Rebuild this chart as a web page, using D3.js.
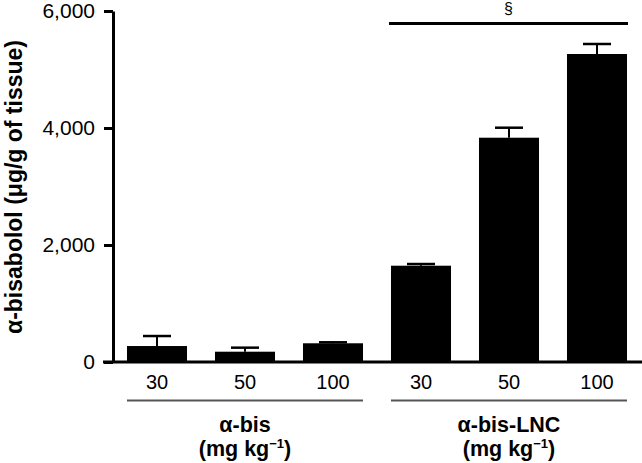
<!DOCTYPE html>
<html><head><meta charset="utf-8">
<script src="https://cdn.jsdelivr.net/npm/d3@7"></script>
<style>body{margin:0;background:#fff}svg{display:block}text{font-family:"Liberation Sans",Arial,sans-serif}</style>
</head><body>
<svg id="c" width="642" height="463"></svg>
<script>
const categories = ["bis-30","bis-50","bis-100","lnc-30","lnc-50","lnc-100"];
const doseLabels = ["30","50","100","30","50","100"];
const groupOf = ["α-bis","α-bis","α-bis","α-bis-LNC","α-bis-LNC","α-bis-LNC"];
const groupNames = ["α-bis","α-bis-LNC"];
const means = [273,176,320,1646,3834,5265];
const errors = [171,69,17,29,171,171];
const yTicks = [0,2000,4000,6000];
const sigGroup = "α-bis-LNC";
const sigSymbol = "§";

const svg = d3.select("#c");
const x = d3.scaleBand().domain(categories).range([113,641]).paddingInner(0.318).paddingOuter(0.159);
const y = d3.scaleLinear().domain([0,6000]).range([362,11]);

// y axis
const ya = svg.append("g").attr("transform","translate(113,0)")
  .call(d3.axisLeft(y).tickValues(yTicks).tickFormat(d3.format(",")).tickSize(9).tickSizeOuter(0));
ya.select(".domain").attr("stroke","#000").attr("stroke-width",3);
ya.selectAll(".tick line").attr("stroke","#000").attr("stroke-width",3);
ya.selectAll(".tick text").attr("font-size",21).attr("fill","#000").attr("x",-18)
  .attr("font-family","Liberation Sans, Arial, sans-serif");

// bars
svg.selectAll("rect.bar").data(categories).enter().append("rect")
  .attr("x",d=>x(d)).attr("width",x.bandwidth())
  .attr("y",(d,i)=>y(means[i])).attr("height",(d,i)=>y(0)-y(means[i]))
  .attr("fill","#000");

// error bars
const cap = 28;
categories.forEach((d,i)=>{
  const cx = x(d)+x.bandwidth()/2;
  svg.append("line").attr("x1",cx).attr("x2",cx).attr("y1",y(means[i])).attr("y2",y(means[i]+errors[i]))
    .attr("stroke","#000").attr("stroke-width",2);
  svg.append("line").attr("x1",cx-cap/2).attr("x2",cx+cap/2).attr("y1",y(means[i]+errors[i])).attr("y2",y(means[i]+errors[i]))
    .attr("stroke","#000").attr("stroke-width",2.5);
});

// x axis baseline
svg.append("line").attr("x1",103).attr("x2",642).attr("y1",y(0)).attr("y2",y(0))
  .attr("stroke","#000").attr("stroke-width",3);

// dose labels
svg.selectAll("text.dose").data(categories).enter().append("text")
  .attr("x",d=>x(d)+x.bandwidth()/2).attr("y",389).attr("text-anchor","middle")
  .attr("font-size",20).text((d,i)=>doseLabels[i]);

// group lines and labels
groupNames.forEach(g=>{
  const idx = categories.map((c,i)=>i).filter(i=>groupOf[i]===g);
  const x0 = x(categories[idx[0]]), x1 = x(categories[idx[idx.length-1]])+x.bandwidth();
  svg.append("line").attr("x1",x0).attr("x2",x1).attr("y1",400.5).attr("y2",400.5)
    .attr("stroke","#555").attr("stroke-width",1.8);
  const cx=(x0+x1)/2;
  svg.append("text").attr("x",cx).attr("y",432).attr("text-anchor","middle")
    .attr("font-size",21.5).attr("font-weight","bold").text(g);
  const t = svg.append("text").attr("x",cx).attr("y",456).attr("text-anchor","middle")
    .attr("font-size",21.5).attr("font-weight","bold");
  t.append("tspan").text("(mg kg");
  t.append("tspan").attr("dy",-8).attr("font-size",13).text("−1");
  t.append("tspan").attr("dy",8).text(")");
});

// significance bar
{
  const idx = categories.map((c,i)=>i).filter(i=>groupOf[i]===sigGroup);
  const x0 = x(categories[idx[0]])-2, x1 = x(categories[idx[idx.length-1]])+x.bandwidth()+1;
  svg.append("line").attr("x1",x0).attr("x2",x1).attr("y1",23.5).attr("y2",23.5)
    .attr("stroke","#000").attr("stroke-width",3);
  svg.append("text").attr("x",(x0+x1)/2).attr("y",14).attr("text-anchor","middle")
    .attr("font-size",16).text(sigSymbol);
}

// y label
svg.append("text").attr("transform","translate(22,187) rotate(-90)").attr("text-anchor","middle")
  .attr("font-size",23).attr("font-weight","bold").text("α-bisabolol (μg/g of tissue)");
</script>
</body></html>
